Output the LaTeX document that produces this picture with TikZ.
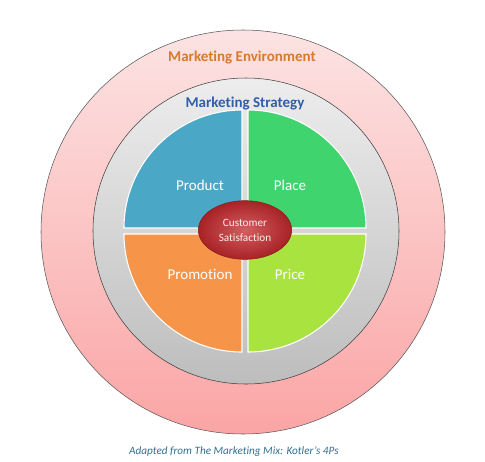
\documentclass[tikz,border=0pt]{standalone}
\usepackage{fontspec}
\setmainfont{Carlito}[Ligatures=NoCommon]
\usepackage{tikz}
\usetikzlibrary{positioning}
\usetikzlibrary{shapes}
\definecolor{envpink}{HTML}{FBA5A5}
\definecolor{envlight}{HTML}{FCE3E3}
\definecolor{stratgray}{HTML}{BDBDBD}
\definecolor{stratlight}{HTML}{EDEDED}
\definecolor{prodblue}{HTML}{4AA8C6}
\definecolor{placegreen}{HTML}{40D46E}
\definecolor{promorange}{HTML}{F6954A}
\definecolor{pricegreen}{HTML}{A9E340}
\definecolor{satred}{HTML}{C5282C}
\definecolor{envorange}{HTML}{D9792C}
\definecolor{stratblue}{HTML}{2F5EAA}
\definecolor{captionblue}{HTML}{31708F}

\begin{document}
\begin{tikzpicture}[x=0.75pt, y=0.75pt, every node/.style={inner sep=0.5mm,text depth=0},
        quad/.style={draw=white, line width=0.8pt},
        quadlabel/.style={text=white, font=\fontsize{11.25}{13}\selectfont},
        ringlabel/.style={font=\bfseries\fontsize{11.25}{13}\selectfont}]
        \useasboundingbox (-245,-230) rectangle (240,231);
        \fill[white] (-245,-230) rectangle (240,231);
        \draw[black!65, top color=envlight, bottom color=envpink] (-2,-1) circle[radius=202];
        \draw[black!75, top color=stratlight, bottom color=stratgray] (1,0) circle[radius=153];
        \path[quad, fill=prodblue] (-3,3) -- ++(-118,0) arc[start angle=180, end angle=90, radius=118] -- cycle;
        \path[quad, fill=placegreen] (3,3) -- ++(0,118) arc[start angle=90, end angle=0, radius=118] -- cycle;
        \path[quad, fill=promorange] (-3,-3) -- ++(0,-118) arc[start angle=270, end angle=180, radius=118] -- cycle;
        \path[quad, fill=pricegreen] (3,-3) -- ++(118,0) arc[start angle=0, end angle=-90, radius=118] -- cycle;
        \node[ringlabel, text=envorange] (env) at (-3,175) {Marketing Environment};
        \node[ringlabel, text=stratblue] (strat) at (0,129) {Marketing Strategy};
        \node[quadlabel] (prod) at (-45,46) {Product};
        \node[quadlabel] (plc) at (45,46) {Place};
        \node[quadlabel] (prom) at (-45,-43) {Promotion};
        \node[quadlabel] (prc) at (45,-43) {Price};
        \node[ellipse, draw=satred!70!black, inner color=satred!75!white, outer color=satred!85!black,
            minimum width=70pt, minimum height=44pt, align=center, text=white!92!red,
            font=\fontsize{8.4}{11.2}\selectfont] (cs) at (0,1) {Customer\\Satisfaction};
        \node[text=captionblue, font=\itshape\fontsize{8.4}{10}\selectfont] (cap) at (-11,-220) {Adapted from The Marketing Mix: Kotler’s 4Ps};
    \end{tikzpicture}
\end{document}
